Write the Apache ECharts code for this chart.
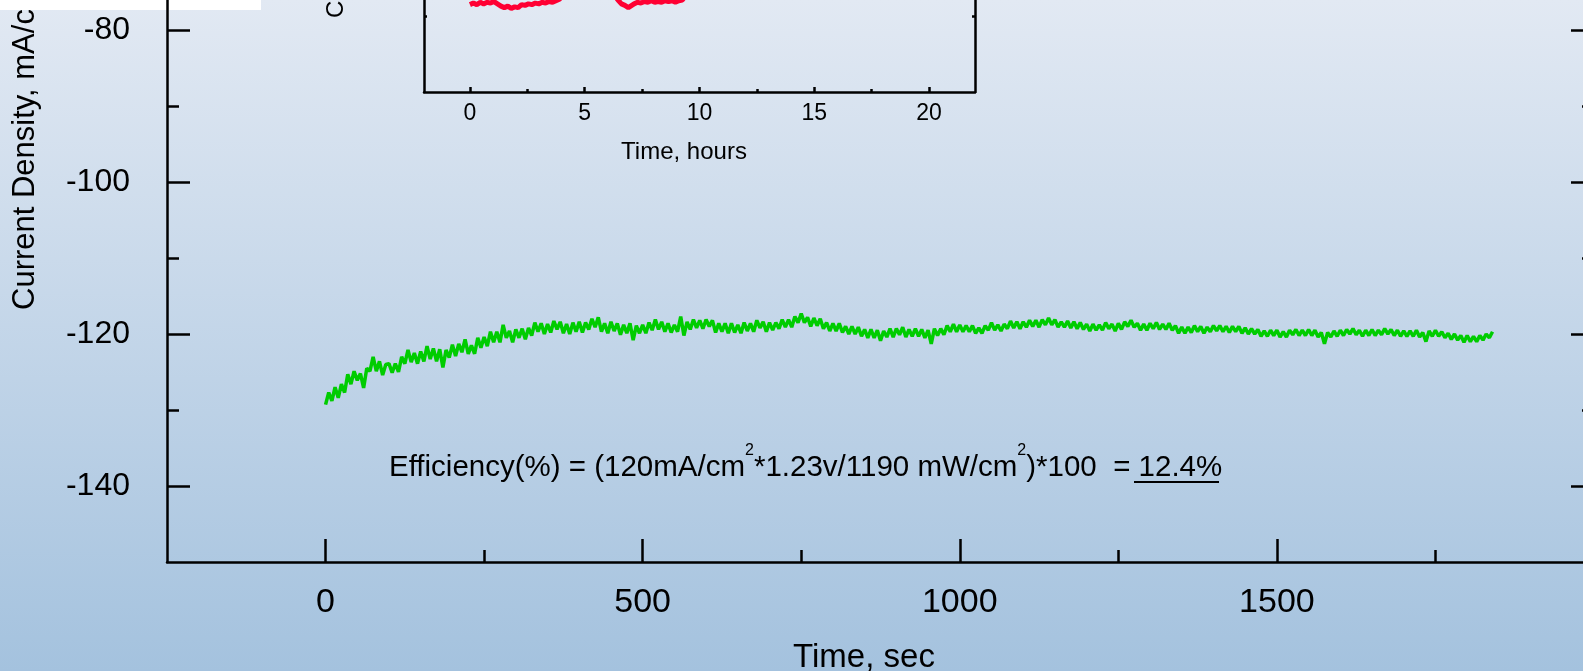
<!DOCTYPE html>
<html>
<head>
    <meta charset="UTF-8">
    <title>Current Density vs Time</title>
    <script src="https://cdn.jsdelivr.net/npm/echarts@6/dist/echarts.min.js"></script>
    <style>
        html, body {
            margin: 0;
            padding: 0;
        }

        #main {
            width: 1583px;
            height: 671px;
        }
    </style>
</head>
<body>
<div id="main"></div>

<script>
    // green trace: current density (mA/cm2), one reading every 5 s from t = 0
    var greenStart = 0;
    var greenStep = 5;
    var greenValues = [
        -129.3, -127.7, -128.8, -127.0, -128.4, -126.6, -127.7, -125.3, -126.6, -124.9,
        -126.1, -125.2, -127.1, -124.5, -124.9, -123.0, -124.9, -123.6, -125.4, -124.0,
        -123.9, -125.1, -123.9, -125.0, -123.0, -123.9, -122.1, -123.7, -122.5, -123.9,
        -122.3, -123.6, -121.6, -123.3, -121.9, -123.6, -122.0, -124.4, -122.1, -123.1,
        -121.4, -122.9, -121.3, -122.4, -120.7, -122.6, -121.5, -122.6, -120.5, -121.8,
        -120.4, -121.6, -119.7, -121.1, -119.7, -121.1, -118.8, -120.5, -119.6, -121.1,
        -119.4, -120.5, -119.3, -120.7, -119.2, -120.2, -118.5, -119.7, -118.6, -120.0,
        -118.7, -119.8, -118.3, -119.4, -118.4, -119.9, -118.7, -120.0, -118.5, -119.7,
        -118.4, -119.8, -118.5, -119.4, -118.0, -119.1, -117.8, -119.7, -118.6, -119.9,
        -118.4, -119.6, -118.6, -120.1, -118.8, -119.9, -118.6, -120.8, -118.9, -119.9,
        -118.8, -119.9, -118.5, -119.5, -118.1, -119.4, -118.4, -119.7, -118.6, -119.8,
        -118.8, -119.7, -117.7, -120.2, -118.4, -119.4, -118.1, -119.2, -118.2, -119.3,
        -118.1, -119.0, -118.2, -119.8, -118.6, -119.7, -118.6, -119.9, -118.6, -119.8,
        -118.8, -119.9, -118.5, -119.6, -118.6, -119.7, -118.2, -119.2, -118.4, -119.7,
        -118.5, -119.5, -118.5, -119.3, -118.1, -119.1, -118.1, -119.1, -117.7, -118.5,
        -117.3, -118.5, -117.8, -119.0, -117.9, -118.9, -118.0, -119.3, -118.5, -119.6,
        -118.6, -119.6, -118.6, -119.8, -119.0, -120.0, -119.0, -120.0, -119.1, -120.3,
        -119.4, -120.5, -119.4, -120.5, -119.5, -120.9, -119.6, -120.4, -119.3, -120.4,
        -119.3, -120.1, -119.1, -120.4, -119.4, -120.3, -119.3, -120.3, -119.4, -120.5,
        -119.5, -121.3, -119.3, -120.2, -119.3, -120.1, -118.9, -119.7, -118.7, -119.7,
        -118.8, -119.7, -118.9, -119.7, -118.9, -119.9, -119.2, -119.9, -118.9, -119.5,
        -118.5, -119.5, -118.8, -119.6, -118.7, -119.3, -118.3, -119.2, -118.4, -119.3,
        -118.4, -119.1, -118.2, -119.0, -118.2, -119.1, -118.1, -118.8, -117.9, -118.8,
        -118.1, -119.1, -118.4, -119.1, -118.3, -119.2, -118.4, -119.3, -118.5, -119.4,
        -118.7, -119.6, -118.7, -119.5, -118.8, -119.5, -118.5, -119.3, -118.7, -119.6,
        -118.6, -119.4, -118.4, -119.0, -118.2, -119.1, -118.6, -119.5, -118.7, -119.5,
        -118.6, -119.3, -118.5, -119.4, -118.7, -119.4, -118.6, -119.5, -118.9, -119.9,
        -119.1, -119.9, -119.1, -119.8, -118.9, -119.7, -119.0, -119.9, -119.1, -119.7,
        -118.9, -119.6, -118.9, -119.7, -119.0, -119.8, -119.0, -119.7, -119.0, -119.9,
        -119.2, -120.0, -119.3, -120.0, -119.4, -120.3, -119.6, -120.3, -119.5, -120.2,
        -119.5, -120.4, -119.7, -120.4, -119.5, -120.1, -119.4, -120.2, -119.5, -120.2,
        -119.4, -120.2, -119.5, -120.4, -119.8, -121.3, -119.8, -120.4, -119.6, -120.3,
        -119.5, -120.2, -119.4, -120.0, -119.3, -120.1, -119.5, -120.3, -119.5, -120.2,
        -119.4, -120.2, -119.5, -120.1, -119.3, -120.0, -119.4, -120.2, -119.5, -120.3,
        -119.6, -120.3, -119.6, -120.3, -119.5, -120.4, -119.8, -121.0, -119.6, -120.3,
        -119.5, -120.3, -119.7, -120.5, -119.9, -120.7, -120.0, -120.8, -120.2, -121.1,
        -120.2, -121.0, -120.3, -121.0, -120.2, -120.8, -120.0, -120.5, -119.7
    ];

    // red trace in the inset (only the part that shows below the crop), null = off the picture
    var redHours = [
        0.0, 0.15, 0.3, 0.45, 0.6, 0.75, 0.9, 1.05, 1.2, 1.35, 1.5, 1.65, 1.8, 1.95, 2.1,
        2.25, 2.4, 2.55, 2.7, 2.85, 3.0, 3.15, 3.3, 3.45, 3.6, 3.75, 3.9, 4.05,
        5.2,
        6.3, 6.45, 6.6, 6.75, 6.9, 7.0, 7.15, 7.3, 7.45, 7.6, 7.75, 7.9, 8.05, 8.2, 8.35,
        8.5, 8.65, 8.8, 8.95, 9.1, 9.25, 9.4
    ];
    var redValues = [
        -148.5, -148.3, -148.5, -148.2, -148.4, -148.2, -148.3, -148.1, -148.4, -148.7, -148.9, -148.7, -149.0, -148.8, -148.9,
        -148.5, -148.6, -148.4, -148.5, -148.3, -148.4, -148.2, -148.3, -148.1, -148.2, -148.0, -147.8, -147.2,
        null,
        -147.3, -147.9, -148.4, -148.6, -148.9, -148.7, -148.4, -148.2, -148.3, -148.1, -148.2, -148.0, -148.2, -148.1, -148.2,
        -148.0, -148.1, -148.0, -148.2, -148.0, -147.9, -147.3
    ];

    // ticks and labels
    var mainXLabels = [0, 500, 1000, 1500];
    var mainXMinor = [250, 750, 1250, 1750];
    var mainYLabels = [-140, -120, -100, -80];
    var mainYMajor = [-140, -120, -100, -80, -60];
    var mainYMinor = [-130, -110, -90, -70];
    var insetXLabels = [0, 5, 10, 15, 20];
    var insetXMinor = [2.5, 7.5, 12.5, 17.5];
    var insetYMajor = [-140, -120];
    var insetYMinor = [-150, -130];

    var font = '"Liberation Sans", Arial, sans-serif';
    var ink = '#000';

    function plain(v) {
        return String(v);
    }

    function axisOf(grid, pos, min, max, ticks, tickLen, lineWidth, labels, fontSize, margin) {
        var axis = {
            type: 'value', gridIndex: grid, position: pos, min: min, max: max,
            axisLine: {show: lineWidth > 0, onZero: false, lineStyle: {color: ink, width: lineWidth}},
            axisTick: {show: true, inside: true, length: tickLen, customValues: ticks, lineStyle: {color: ink, width: 2.5}},
            axisLabel: {show: false},
            splitLine: {show: false}
        };
        if (labels) {
            axis.axisLabel = {
                show: true, customValues: labels, margin: margin, formatter: plain,
                fontSize: fontSize, color: ink, fontFamily: font
            };
        }
        return axis;
    }

    var greenData = greenValues.map(function (v, i) {
        return [greenStart + i * greenStep, v];
    });
    var redData = redHours.map(function (h, i) {
        return [h, redValues[i]];
    });

    var chart = echarts.init(document.getElementById('main'), null, {renderer: 'canvas'});

    var option = {
        animation: false,
        backgroundColor: {
            type: 'linear', x: 0, y: 0, x2: 0, y2: 1,
            colorStops: [{offset: 0, color: '#e2e9f3'}, {offset: 1, color: '#a4c2de'}]
        },
        grid: [
            // main plot, its top is above the cropped picture
            {left: 167, right: -11, top: -122, bottom: 109, containLabel: false, outerBoundsMode: 'none'},
            // inset
            {left: 424, right: 608, top: -212, bottom: 579, containLabel: false, outerBoundsMode: 'none'}
        ],
        xAxis: [
            axisOf(0, 'bottom', -250, 2000, mainXLabels, 23, 2.5, mainXLabels, 34, 24),
            axisOf(0, 'bottom', -250, 2000, mainXMinor, 12, 0),
            axisOf(1, 'bottom', -2, 22, insetXLabels, 5, 2.5, insetXLabels, 23, 10),
            axisOf(1, 'bottom', -2, 22, insetXMinor, 3, 0)
        ],
        yAxis: [
            axisOf(0, 'left', -150, -60, mainYMajor, 23, 2.5, mainYLabels, 32, 37),
            axisOf(0, 'left', -150, -60, mainYMinor, 12, 0),
            axisOf(0, 'right', -150, -60, mainYMajor, 23, 2.5),
            axisOf(0, 'right', -150, -60, mainYMinor, 12, 0),
            axisOf(1, 'left', -160, -120, insetYMajor, 5, 2.5),
            axisOf(1, 'left', -160, -120, insetYMinor, 3, 0),
            axisOf(1, 'right', -160, -120, insetYMajor, 5, 2.5),
            axisOf(1, 'right', -160, -120, insetYMinor, 3, 0)
        ],
        series: [
            {
                type: 'line', xAxisIndex: 0, yAxisIndex: 0, data: greenData,
                showSymbol: false, lineStyle: {color: '#00cc00', width: 3.5}
            },
            {
                type: 'line', xAxisIndex: 2, yAxisIndex: 4, data: redData, connectNulls: false,
                showSymbol: false, lineStyle: {color: '#ff0033', width: 5}
            }
        ],
        graphic: [
            {
                type: 'text', x: 25, y: 310, rotation: Math.PI / 2,
                style: {text: 'Current Density, mA/cm²', font: '31px ' + font, fill: ink, align: 'left', verticalAlign: 'middle'}
            },
            {
                type: 'text', x: 864, y: 658,
                style: {text: 'Time, sec', font: '33px ' + font, fill: ink, align: 'center', verticalAlign: 'middle'}
            },
            {
                type: 'text', x: 336, y: 18, rotation: Math.PI / 2,
                style: {text: 'Current Density, mA/cm²', font: '24px ' + font, fill: ink, align: 'left', verticalAlign: 'middle'}
            },
            {
                type: 'text', x: 684, y: 152,
                style: {text: 'Time, hours', font: '24px ' + font, fill: ink, align: 'center', verticalAlign: 'middle'}
            },
            {
                type: 'text', x: 389, y: 443,
                style: {
                    text: '{t|Efficiency(%) = (120mA/cm}{s|2}{t|*1.23v/1190 mW/cm}{s|2}{t|)*100  = 12.4%}',
                    align: 'left', verticalAlign: 'top',
                    rich: {
                        t: {fontSize: 29.5, fontFamily: font, fill: ink, verticalAlign: 'bottom'},
                        s: {fontSize: 16, fontFamily: font, fill: ink, verticalAlign: 'top', padding: [0, 0, 24, 0]}
                    }
                }
            },
            {
                type: 'line', shape: {x1: 1134, y1: 482, x2: 1219, y2: 482},
                style: {stroke: ink, lineWidth: 2}
            },
            {
                // white strip at the top-left corner of the source picture
                type: 'rect', shape: {x: 0, y: 0, width: 261, height: 10},
                style: {fill: '#fff'}
            }
        ]
    };

    chart.setOption(option);
</script>
</body>
</html>
